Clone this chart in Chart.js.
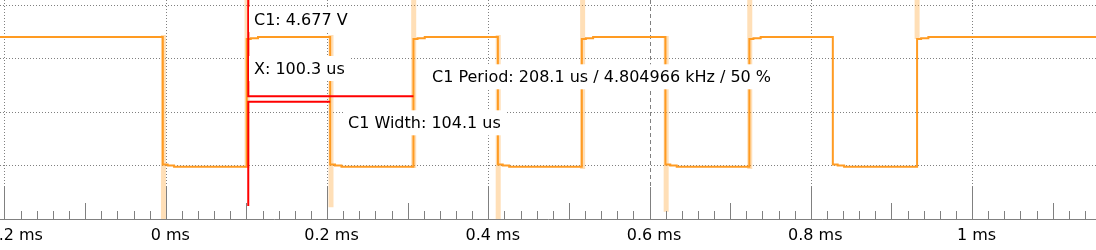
<!DOCTYPE html>
<html>
<head>
<meta charset="utf-8">
<script src="https://cdn.jsdelivr.net/npm/chart.js@4.4.1/dist/chart.umd.min.js"></script>
<style>
  html, body { margin: 0; padding: 0; background: #fff; }
</style>
</head>
<body>
<canvas id="scope" width="1096" height="250"></canvas>
<script>
// time in ms, voltage in V
const viewStart = -0.2062
const viewEnd = 1.1531
const startLevel = 4.81
const fallEdges = [-0.0043, 0.2033, 0.4113, 0.6191, 0.8267]
const riseEdges = [0.0998, 0.3066, 0.5154, 0.7232, 0.9312]
// settling after an edge: [ms after edge, V]
const riseSteps = [[0, 4.74], [0.005, 4.77], [0.014, 4.81]]
const fallSteps = [[0, 0.04], [0.006, 0.0], [0.014, -0.04]]

// highlighted edges: [ms, top V, bottom V]
const edgeMarks = [
  [-0.0035, 4.89, -2.0],
  [0.1002, 6.3, -0.09],
  [0.2043, 4.89, -1.56],
  [0.3069, 6.3, -0.09],
  [0.4117, 4.89, -2.0],
  [0.5164, 6.3, -0.13],
  [0.6200, 4.85, -1.73],
  [0.7237, 6.3, -0.13],
  [0.9312, 6.3, 4.74]
]

// cursor X and the period / width brackets
const cursorT = 0.1017
const cursorTop = 6.3
const cursorBottom = -1.51
const periodLevel = 2.6
const periodEnd = 0.3066
const widthLevel = 2.39
const widthEnd = 0.2033

const majorTicks = [-0.2, 0, 0.2, 0.4, 0.6, 0.8, 1.0]
const minorStep = 0.02
const voltGrid = [0, 2, 4, 6]
const readouts = [
  'C1: 4.677 V',
  'X: 100.3 us',
  'C1 Period: 208.1 us / 4.804966 kHz / 50 %',
  'C1 Width: 104.1 us'
]
// left x / baseline y of each readout
const readoutSpots = [
  {x: 254, y: 25},
  {x: 254, y: 74},
  {x: 432, y: 82.3},
  {x: 348, y: 128.3}
]

// build the trace from the edges
const trace = [{x: viewStart, y: startLevel}]
const edges = []
fallEdges.forEach((t, i) => {
  edges.push([t, fallSteps])
  if (riseEdges[i] !== undefined) edges.push([riseEdges[i], riseSteps])
})
edges.forEach(([t, steps]) => {
  let last = trace[trace.length - 1].y
  steps.forEach(([dt, v]) => {
    trace.push({x: t + dt, y: last})
    trace.push({x: t + dt, y: v})
    last = v
  })
})
trace.push({x: viewEnd, y: trace[trace.length - 1].y})

const bands = []
edgeMarks.forEach(([t, top, bottom]) => {
  bands.push({x: t, y: top}, {x: t, y: bottom}, {x: t, y: null})
})

const periodLine = [
  {x: cursorT, y: cursorTop}, {x: cursorT, y: periodLevel}, {x: periodEnd, y: periodLevel}
]
const widthLine = [
  {x: widthEnd, y: widthLevel}, {x: cursorT, y: widthLevel}, {x: cursorT, y: cursorBottom}
]

const fmtMs = v => {
  const r = Math.round(v * 10) / 10
  return (r < 0 ? '\u2212' + Math.abs(r) : r) + ' ms'
}

const scopeMarks = {
  id: 'scopeMarks',
  afterDatasetsDraw(chart) {
    const {ctx, chartArea} = chart
    const x = chart.scales.x
    ctx.save()
    ctx.font = '16px "DejaVu Sans"'
    ctx.textBaseline = 'alphabetic'
    readouts.forEach((txt, i) => {
      const p = readoutSpots[i]
      const w = ctx.measureText(txt).width
      ctx.fillStyle = '#ffffff'
      ctx.fillRect(p.x - 5, p.y - 18, w + 10, 25)
      ctx.fillStyle = '#000000'
      ctx.fillText(txt, p.x, p.y)
    })
    // tick marks pointing up from the time axis
    ctx.strokeStyle = '#808080'
    ctx.lineWidth = 1
    const base = chartArea.bottom
    for (let k = 0; ; k++) {
      const v = majorTicks[0] + k * minorStep
      if (v > x.max) break
      const len = k % 10 === 0 ? 32 : (k % 5 === 0 ? 16 : 8)
      const px = Math.round(x.getPixelForValue(v) - 0.5) + 0.5
      ctx.beginPath()
      ctx.moveTo(px, base)
      ctx.lineTo(px, base - len)
      ctx.stroke()
    }
    ctx.restore()
  }
}

new Chart(document.getElementById('scope'), {
  type: 'line',
  data: {
    datasets: [
      {
        label: 'edges',
        data: bands,
        borderColor: 'rgba(255,154,30,0.32)',
        borderWidth: 5,
        borderCapStyle: 'butt',
        pointRadius: 0,
        spanGaps: false,
        order: 3
      },
      {
        label: 'C1',
        data: trace,
        borderColor: '#ff9b22',
        borderWidth: 2,
        pointRadius: 0,
        tension: 0,
        borderJoinStyle: 'miter',
        order: 2
      },
      {
        label: 'period',
        data: periodLine,
        borderColor: '#ff0000',
        borderWidth: 2,
        pointRadius: 0,
        borderJoinStyle: 'miter',
        order: 1
      },
      {
        label: 'width',
        data: widthLine,
        borderColor: '#ff0000',
        borderWidth: 2,
        pointRadius: 0,
        borderJoinStyle: 'miter',
        order: 1
      }
    ]
  },
  options: {
    responsive: false,
    animation: false,
    devicePixelRatio: 1,
    layout: { padding: 0 },
    plugins: { legend: { display: false }, tooltip: { enabled: false } },
    scales: {
      x: {
        type: 'linear',
        min: viewStart,
        max: viewEnd,
        offset: false,
        afterBuildTicks: s => { s.ticks = majorTicks.map(v => ({value: v})) },
        afterFit: s => { s.height = 31; s.paddingLeft = 0; s.paddingRight = 0 },
        ticks: {
          autoSkip: false,
          maxRotation: 0,
          padding: 7,
          labelOffset: 4,
          color: '#000000',
          font: { family: 'DejaVu Sans', size: 16 },
          callback: v => fmtMs(v)
        },
        grid: { color: '#808080', lineWidth: 1, drawTicks: false },
        border: {
          display: true,
          color: '#808080',
          width: 1,
          dash: ctx => (ctx.tick && ctx.tick.value === 0.6) ? [4, 3] : [1, 2]
        }
      },
      y: {
        type: 'linear',
        min: -2,
        max: 6.2,
        afterBuildTicks: s => { s.ticks = voltGrid.map(v => ({value: v})) },
        afterFit: s => { s.width = 0 },
        ticks: { display: false },
        grid: { color: '#808080', lineWidth: 1, drawTicks: false },
        border: { display: false, dash: [1, 2] }
      }
    }
  },
  plugins: [scopeMarks]
})
</script>
</body>
</html>
